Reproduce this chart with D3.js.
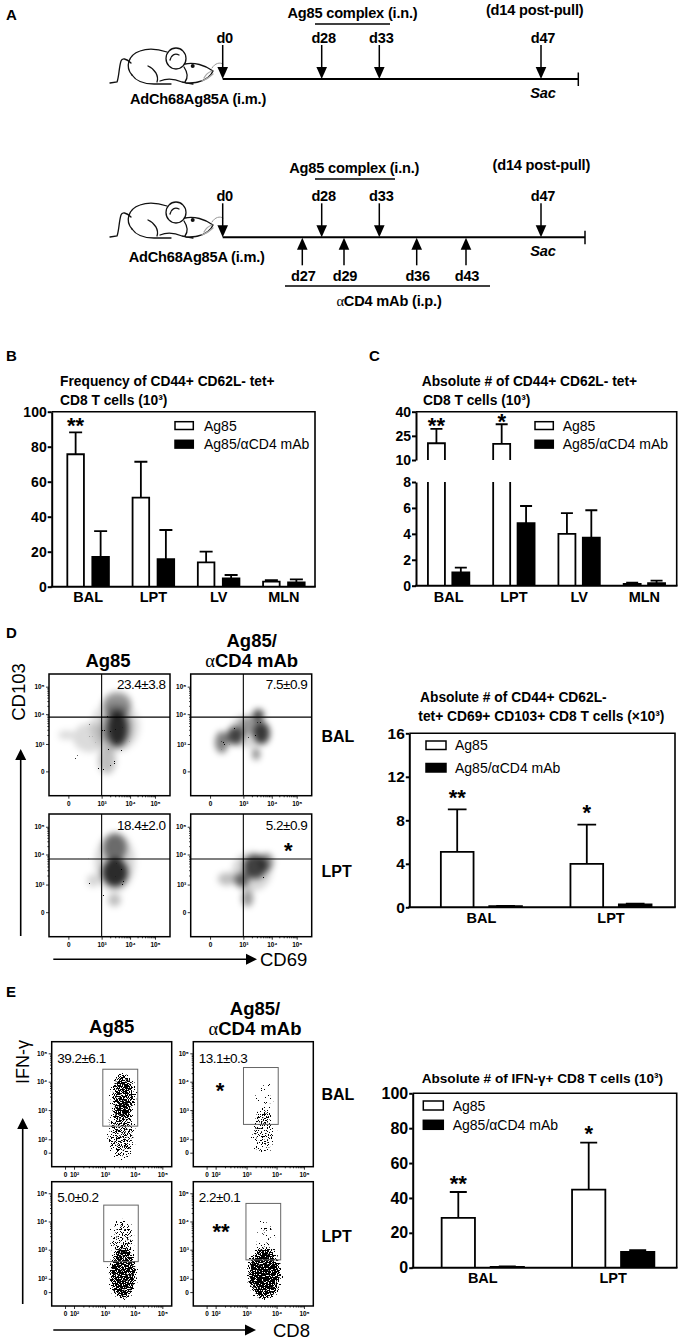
<!DOCTYPE html>
<html><head><meta charset="utf-8">
<script src="https://cdn.jsdelivr.net/npm/d3@7"></script>
<style>body{margin:0;background:#fff}svg{display:block}text{font-family:"Liberation Sans",Arial,Helvetica,sans-serif}</style>
</head><body>
<svg id="c" width="681" height="1339" xmlns="http://www.w3.org/2000/svg"></svg>
<script>
// ---------------- DATA ----------------
// Panel A timeline (days)
const primeDay = 0;
const boostDays = [28, 33];
const sacDay = 47;
const antiCD4Days = [27, 29, 36, 43];

// Panels B,C
const tissuesBC = ["BAL", "LPT", "LV", "MLN"];
const freqAg85 = [75.7, 50.9, 13.9, 2.9];
const freqAg85Sem = [12.5, 20.5, 6.1, 0.9];
const freqCD4 = [17.1, 15.8, 4.8, 2.5];
const freqCD4Sem = [14.7, 16.6, 1.9, 1.7];
const freqStars = ["**", "", "", ""];
const absAg85 = [20.4, 20.0, 4.0, 0.13];
const absAg85Sem = [8.9, 12.2, 1.6, 0.1];
const absCD4 = [1.03, 4.82, 3.71, 0.19];
const absCD4Sem = [0.36, 1.33, 2.11, 0.2];
const absStars = ["**", "*", "", ""];
const ticksB = [0, 20, 40, 60, 80, 100];
const ticksCLow = [0, 2, 4, 6, 8];
const ticksCHigh = [10, 25, 40];

// Panels D,E bar charts
const tissuesDE = ["BAL", "LPT"];
const trmAg85 = [5.1, 4.0];
const trmAg85Sem = [3.9, 3.6];
const trmCD4 = [0.1, 0.27];
const trmCD4Sem = [0.03, 0.06];
const trmStars = ["**", "*"];
const ticksD = [0, 4, 8, 12, 16];
const ifnAg85 = [28.6, 44.8];
const ifnAg85Sem = [14.8, 26.9];
const ifnCD4 = [0.5, 9.1];
const ifnCD4Sem = [0.2, 1.0];
const ifnStars = ["**", "*"];
const ticksE = [0, 20, 40, 60, 80, 100];

const groupNames = ["Ag85", "Ag85/\u03b1CD4 mAb"];

// Flow plots (values in decades; 0 = zero)
const flowTicksD = [0, 3, 4, 5];
const flowLabelsD = ["0", "10\u00b3", "10\u2074", "10\u2075"];
const flowTicksE = [0, 2, 3, 4, 5];
const flowLabelsE = ["0", "10\u00b2", "10\u00b3", "10\u2074", "10\u2075"];
const cd103Pct = ["23.4\u00b13.8", "7.5\u00b10.9", "18.4\u00b12.0", "5.2\u00b10.9"];
const ifnPct = ["39.2\u00b16.1", "13.1\u00b10.3", "5.0\u00b10.2", "2.2\u00b10.1"];
const cd69Cut = [3, 3, 3, 3];
const cd103Cut = [3.9, 3.9, 3.85, 3.85];
const ifnGates = [[2.93, 4.1, 2.45, 4.44], [2.9, 4.06, 2.51, 4.5], [2.96, 4.12, 2.59, 4.58], [2.98, 4.15, 2.65, 4.64]];
const flowStarsD = ["", "", "", "*"];
const flowStarsE = ["", "*", "", "**"];
// density blobs [cx, cy, rx, ry, weight] per plot (BAL Ag85, BAL aCD4, LPT Ag85, LPT aCD4)
const cd103Density = [
  [[3.2, 3.3, 1.2, 1.2, 0.12], [1.8, 2.9, 1.4, 0.8, 0.14], [-0.2, 3.3, 0.7, 0.15, 0.14], [3.1, 1.2, 0.4, 1.5, 0.25],
   [3.5, 3.4, 0.6, 0.9, 0.3], [3.55, 4.35, 0.5, 0.45, 0.4], [3.55, 3.45, 0.35, 0.65, 0.75]],
  [[2.8, 3.3, 1.0, 0.7, 0.16], [3.53, 3.97, 0.2, 0.22, 0.7], [3.65, 3.35, 0.29, 0.39, 0.75], [2.25, 3.24, 0.75, 0.34, 0.7],
   [1.05, 2.7, 0.6, 0.73, 0.5], [3.45, 1.89, 0.14, 0.66, 0.45], [3.0, 3.6, 0.5, 0.3, 0.3]],
  [[3.3, 3.48, 0.9, 1.3, 0.16], [2.25, 3.04, 0.6, 0.3, 0.16], [3.45, 1.32, 0.23, 0.7, 0.25],
   [3.47, 4.26, 0.41, 0.5, 0.5], [3.47, 3.32, 0.45, 0.55, 0.8]],
  [[3.0, 3.2, 1.0, 0.9, 0.16], [1.5, 3.15, 0.8, 0.25, 0.25], [3.1, 1.5, 0.25, 0.9, 0.4],
   [2.7, 3.04, 0.5, 0.35, 0.55], [3.82, 3.75, 0.25, 0.3, 0.45], [3.41, 3.59, 0.41, 0.4, 0.7]]
];
const cd103Strays = [
  [[2.0, 1.8, 2.2, 2.3, 0.42]],
  [[2.5, 2.6, 1.8, 1.6, 0.34]],
  [[2.2, 2.2, 2.0, 2.0, 0.34]],
  [[2.4, 2.4, 1.8, 1.8, 0.3]]
];
const ifnDensity = [
  [[3.55, 1.0, 0.5, 2.2, 0.75], [3.6, 3.5, 0.45, 0.85, 0.85], [3.6, 3.6, 0.25, 0.5, 0.4]],
  [[3.55, 1.2, 0.45, 1.8, 0.62], [3.6, 3.3, 0.4, 0.8, 0.46]],
  [[3.6, 0.9, 0.5, 2.2, 0.97], [3.6, 3.3, 0.45, 0.85, 0.66]],
  [[3.6, 0.9, 0.6, 2.2, 1.0], [3.6, 3.4, 0.4, 0.8, 0.45]]
];

// ---------------- SETUP ----------------
const svg = d3.select("#c");
const defs = svg.append("defs");
const W = 681, H = 1339;

const fBlur = defs.append("filter").attr("id", "blurD").attr("filterUnits", "userSpaceOnUse")
  .attr("x", 0).attr("y", 0).attr("width", W).attr("height", H).attr("color-interpolation-filters", "sRGB");
fBlur.append("feGaussianBlur").attr("stdDeviation", 3);

function speckFilter(id, k2, k4, seed) {
  const f = defs.append("filter").attr("id", id).attr("filterUnits", "userSpaceOnUse")
    .attr("x", 0).attr("y", 0).attr("width", W).attr("height", H).attr("color-interpolation-filters", "sRGB");
  f.append("feGaussianBlur").attr("in", "SourceAlpha").attr("stdDeviation", 3).attr("result", "d");
  f.append("feTurbulence").attr("type", "fractalNoise").attr("baseFrequency", 0.85).attr("numOctaves", 2).attr("seed", seed).attr("result", "n");
  f.append("feColorMatrix").attr("in", "n").attr("type", "matrix")
    .attr("values", "0 0 0 0 0  0 0 0 0 0  0 0 0 0 0  1 0 0 0 0").attr("result", "nr");
  f.append("feComposite").attr("in", "d").attr("in2", "nr").attr("operator", "arithmetic")
    .attr("k1", 0).attr("k2", k2).attr("k3", 1).attr("k4", k4).attr("result", "s");
  const ct = f.append("feComponentTransfer").attr("in", "s").attr("result", "t");
  ct.append("feFuncA").attr("type", "linear").attr("slope", 30).attr("intercept", 0);
  f.append("feFlood").attr("flood-color", "#000").attr("result", "fl");
  f.append("feComposite").attr("in", "fl").attr("in2", "t").attr("operator", "in");
}
speckFilter("specks", 0.56, -0.93, 7);
speckFilter("strays", 0.45, -0.95, 3);

function txt(g, x, y, s, o = {}) {
  const t = g.append("text").attr("x", x).attr("y", y)
    .attr("font-size", o.size || 14).attr("font-weight", o.weight || "normal")
    .attr("text-anchor", o.anchor || "start").attr("fill", o.fill || "#000");
  if (o.style) t.attr("font-style", o.style);
  if (o.ls !== undefined) t.attr("letter-spacing", o.ls);
  if (o.rotate) t.attr("transform", `rotate(${o.rotate},${x},${y})`);
  if (Array.isArray(s)) {
    s.forEach(p => { const ts = t.append("tspan").text(p[0]); if (p[1]) ts.attr("font-family", '"Liberation Serif","Times New Roman",serif').attr("font-weight", "normal"); });
  } else t.text(s);
  return t;
}

// Panel letters
[["A", 6, 20], ["B", 6, 360.5], ["C", 369, 360.5], ["D", 6, 638], ["E", 6, 997]].forEach(d =>
  txt(svg, d[1], d[2], d[0], { size: 15, weight: "bold" }));

// ---------------- PANEL A ----------------
const day = d3.scaleLinear()
  .domain([0, 27, 28, 29, 33, 36, 43, 47, 49.5, 50])
  .range([222.7, 302.3, 321.7, 344, 379.3, 416.7, 466, 541, 578.3, 585]);
const AF = 14.6;

function mouse(g, ox, oy) {
  const m = g.append("g").attr("transform", `translate(${ox},${oy})`)
    .attr("fill", "none").attr("stroke", "#111").attr("stroke-width", 1.3).attr("stroke-linecap", "round");
  m.append("path").attr("d", "M23,16 C18,11 14,11 13,14 C11,20 11,30 9,35 L2,36");
  m.append("path").attr("d", "M24,28 C17,20 20,8 32,4 C40,1 50,2 59,5");
  m.append("path").attr("d", "M24,28 C28,34 36,37 46,37 L63,37");
  m.append("path").attr("d", "M40,19 C47,22 51,29 49,35");
  m.append("path").attr("d", "M52,34 C59,31 67,32 74,35 L85,37");
  m.append("ellipse").attr("cx", 68).attr("cy", 11.5).attr("rx", 10).attr("ry", 10.5).attr("fill", "#fff");
  m.append("path").attr("d", "M62,13 C63,8 67,6 71,8");
  m.append("path").attr("d", "M77,17 C86,15 97,18 105,24 C103,29 98,33 90,35 C86,36 82,36 78,36").attr("fill", "#fff");
  m.append("path").attr("d", "M76,20 C80,26 80,31 77,35");
  m.append("circle").attr("cx", 84.7).attr("cy", 19).attr("r", 2).attr("fill", "#111").attr("stroke", "none");
  m.append("path").attr("d", "M96,31 C98,27 101,25 104,24 M94,34 C99,32 102,30 105,27").attr("stroke", "#aaa");
  m.append("path").attr("d", "M104,21 C107,16 112,15 115,17").attr("stroke", "#999").attr("stroke-width", 1);
}

function downArrow(g, x, yl) {
  g.append("line").attr("x1", x).attr("x2", x).attr("y1", yl - 34).attr("y2", yl - 10).attr("stroke", "#000").attr("stroke-width", 1.5);
  g.append("path").attr("d", `M${x - 5.3},${yl - 12}L${x + 5.3},${yl - 12}L${x},${yl}Z`).attr("fill", "#000");
}
function upArrow(g, x, yl) {
  g.append("line").attr("x1", x).attr("x2", x).attr("y1", yl + 10).attr("y2", yl + 28).attr("stroke", "#000").attr("stroke-width", 1.5);
  g.append("path").attr("d", `M${x - 5.3},${yl + 12.5}L${x + 5.3},${yl + 12.5}L${x},${yl + 0.5}Z`).attr("fill", "#000");
}

function timeline(yl, endDay, withCD4, o) {
  const g = svg.append("g");
  mouse(g, 108, o.mouseY);
  g.append("line").attr("x1", day(primeDay)).attr("x2", day(endDay)).attr("y1", yl).attr("y2", yl).attr("stroke", "#000").attr("stroke-width", 2);
  g.append("line").attr("x1", day(endDay)).attr("x2", day(endDay)).attr("y1", yl - 6.5).attr("y2", yl + 7).attr("stroke", "#000").attr("stroke-width", 1.5);
  const downs = [primeDay, ...boostDays, sacDay];
  downs.forEach(d => { downArrow(g, day(d), yl); txt(g, day(d) + 2, yl - 36, "d" + d, { size: AF, weight: "bold", anchor: "middle", ls: -0.2 }); });
  txt(g, day(sacDay) + 2, yl + 18.5, "Sac", { size: AF, weight: "bold", style: "italic", anchor: "middle", ls: -0.2 });
  txt(g, o.boostCx, o.boostY, o.boostText, { size: AF, weight: "bold", anchor: "middle", ls: -0.2 });
  g.append("line").attr("x1", day(boostDays[0]) - 6.7).attr("x2", day(boostDays[1]) + o.brExt).attr("y1", o.boostY + 6).attr("y2", o.boostY + 6).attr("stroke", "#000").attr("stroke-width", 1.5);
  txt(g, o.postCx, o.postY, "(d14 post-pull)", { size: AF, weight: "bold", anchor: "middle", ls: -0.2 });
  txt(g, o.adCx, yl + 24.5, "AdCh68Ag85A (i.m.)", { size: AF, weight: "bold", anchor: "middle", ls: -0.2 });
  if (withCD4) {
    antiCD4Days.forEach(d => { upArrow(g, day(d), yl); txt(g, day(d) + 1, yl + 44, "d" + d, { size: AF, weight: "bold", anchor: "middle", ls: -0.2 }); });
    g.append("line").attr("x1", day(antiCD4Days[0]) - 17.3).attr("x2", day(antiCD4Days[3]) + 24).attr("y1", yl + 48.7).attr("y2", yl + 48.7).attr("stroke", "#000").attr("stroke-width", 1.5);
    txt(g, 389, yl + 69, [["\u03b1", true], ["CD4 mAb (i.p.)", false]], { size: AF, weight: "bold", anchor: "middle", ls: -0.2 });
  }
}
timeline(79, 49.5, false, { mouseY: 47, boostCx: 352.5, boostY: 18, boostText: "Ag85 complex (i.n.)", brExt: 10.7, postCx: 534.7, postY: 14.5, adCx: 198 });
timeline(237.3, 50, true, { mouseY: 201, boostCx: 354.3, boostY: 173, boostText: "Ag85 complex  (i.n.)", brExt: 15.7, postCx: 541.3, postY: 169.5, adCx: 196.7 });

// ---------------- BAR CHARTS ----------------
function barChart(c) {
  const g = svg.append("g");
  const x = d3.scaleBand().domain(c.cats).range(c.xr);
  c.segs.forEach(s => s.sc = d3.scaleLinear().domain([s.lo, s.hi]).range([s.y0, s.y1]));
  const yBase = c.segs[0].y0, yTop = c.segs[c.segs.length - 1].y1;
  const segFor = v => c.segs.find(s => v >= s.lo && v <= s.hi) || c.segs[c.segs.length - 1];

  c.titles.forEach(t => txt(g, t.x, t.y, t.s, { size: c.titleFs, weight: "bold" }));

  const bars = [];
  c.cats.forEach((cat, i) => [0, 1].forEach(k => {
    const v = k ? c.b[i] : c.a[i], sem = k ? c.bSem[i] : c.aSem[i];
    const x0 = x(cat) + x.bandwidth() / 2 + (k ? c.gap / 2 : -c.gap / 2 - c.bw);
    bars.push({ i, k, v, sem, x0 });
  }));
  const pieces = [];
  bars.forEach(b => c.segs.forEach(s => {
    if (b.v <= s.lo) return;
    pieces.push({ k: b.k, x0: b.x0, lo: s.sc(s.lo), top: s.sc(Math.min(b.v, s.hi)), closed: b.v <= s.hi });
  }));
  g.selectAll(".bf").data(pieces).join("rect").attr("class", "bf")
    .attr("x", d => d.x0).attr("y", d => d.top).attr("width", c.bw).attr("height", d => d.lo - d.top)
    .attr("fill", d => d.k ? "#000" : "#fff");
  g.selectAll(".bo").data(pieces).join("path").attr("class", "bo")
    .attr("d", d => {
      const p = d3.path(); p.moveTo(d.x0, d.lo); p.lineTo(d.x0, d.top);
      if (d.closed) p.lineTo(d.x0 + c.bw, d.top); else p.moveTo(d.x0 + c.bw, d.top);
      p.lineTo(d.x0 + c.bw, d.lo); return p.toString();
    })
    .attr("fill", "none").attr("stroke", "#000").attr("stroke-width", 1.8);
  g.selectAll(".eb").data(bars).join("path").attr("class", "eb")
    .attr("d", d => {
      const s = segFor(d.v), cx = d.x0 + c.bw / 2, ye = s.sc(d.v + d.sem);
      return `M${cx},${s.sc(d.v)}V${ye}M${cx - c.cap / 2},${ye}H${cx + c.cap / 2}`;
    })
    .attr("fill", "none").attr("stroke", "#000").attr("stroke-width", 1.8);
  g.selectAll(".st").data(bars.filter(d => d.k === 0 && c.stars[d.i])).join("text").attr("class", "st")
    .attr("x", d => d.x0 + c.bw / 2)
    .attr("y", d => segFor(d.v).sc(d.v + d.sem) - c.so + 0.57 * c.sfs)
    .attr("text-anchor", "middle").attr("font-size", c.sfs).attr("font-weight", "bold")
    .text(d => c.stars[d.i]);

  g.append("path").attr("d", `M${c.ax},${yTop}H${c.rx}V${yBase}`).attr("fill", "none").attr("stroke", "#000").attr("stroke-width", 1.6);
  g.append("line").attr("x1", c.ax - 1).attr("x2", c.rx + 0.8).attr("y1", yBase).attr("y2", yBase).attr("stroke", "#000").attr("stroke-width", 2);
  c.segs.forEach(s => {
    const a = g.append("g").attr("transform", `translate(${c.ax},0)`)
      .call(d3.axisLeft(s.sc).tickValues(s.ticks).tickSize(c.tk).tickPadding(c.tp).tickSizeOuter(0));
    a.attr("font-family", '"Liberation Sans",Arial,sans-serif').attr("font-size", c.tfs).attr("font-weight", "bold");
    a.selectAll("path,line").attr("stroke", "#000").attr("stroke-width", 2);
    a.selectAll("text").attr("fill", "#000");
  });

  const L = c.legend;
  [0, 1].forEach(k => {
    const yy = k ? L.y2 : L.y1;
    g.append("rect").attr("x", L.x).attr("y", yy).attr("width", L.w).attr("height", L.h)
      .attr("fill", k ? "#000" : "#fff").attr("stroke", "#000").attr("stroke-width", 1.5);
    txt(g, L.tx, yy + L.h / 2 + 5.2, groupNames[k], { size: L.fs });
  });

  g.selectAll(".cl").data(c.cats).join("text").attr("class", "cl")
    .attr("x", d => x(d) + x.bandwidth() / 2).attr("y", c.catY)
    .attr("text-anchor", "middle").attr("font-size", c.catFs).attr("font-weight", "bold").text(d => d);
}

barChart({
  cats: tissuesBC, a: freqAg85, aSem: freqAg85Sem, b: freqCD4, bSem: freqCD4Sem, stars: freqStars,
  xr: [55.5, 316.5], ax: 51.7, rx: 315,
  segs: [{ lo: 0, hi: 100, y0: 586.7, y1: 411.7, ticks: ticksB }],
  bw: 16.6, gap: 8.4, cap: 13, tk: 4, tp: 1, tfs: 14, so: 12, sfs: 22,
  legend: { x: 175, y1: 421.7, y2: 440.3, w: 18.3, h: 7.8, tx: 204, fs: 14 },
  titles: [{ x: 60, y: 386.3, s: "Frequency of CD44+ CD62L- tet+" }, { x: 60, y: 404.5, s: "CD8 T cells (10\u00b3)" }],
  titleFs: 13.8, catY: 601.7, catFs: 14.5
});
barChart({
  cats: tissuesBC, a: absAg85, aSem: absAg85Sem, b: absCD4, bSem: absCD4Sem, stars: absStars,
  xr: [416, 677], ax: 416, rx: 676.7,
  segs: [{ lo: 0, hi: 8, y0: 585.7, y1: 482, ticks: ticksCLow }, { lo: 10, hi: 40, y0: 460, y1: 411.7, ticks: ticksCHigh }],
  bw: 17, gap: 7.4, cap: 12, tk: 4, tp: 1, tfs: 14, so: 8, sfs: 22,
  legend: { x: 535, y1: 421.7, y2: 440.3, w: 18.3, h: 7.8, tx: 562.7, fs: 14 },
  titles: [{ x: 421.7, y: 386.3, s: "Absolute # of CD44+ CD62L- tet+" }, { x: 423, y: 404.5, s: "CD8 T cells (10\u00b3)" }],
  titleFs: 13.8, catY: 601.7, catFs: 14.5
});
barChart({
  cats: tissuesDE, a: trmAg85, aSem: trmAg85Sem, b: trmCD4, bSem: trmCD4Sem, stars: trmStars,
  xr: [416.6, 675.8], ax: 409.3, rx: 675,
  segs: [{ lo: 0, hi: 16, y0: 907.3, y1: 733.3, ticks: ticksD }],
  bw: 32.7, gap: 15.7, cap: 18.7, tk: 3.5, tp: 1, tfs: 15.5, so: 17, sfs: 22,
  legend: { x: 426, y1: 741, y2: 763.5, w: 20, h: 8.5, tx: 455, fs: 14 },
  titles: [{ x: 420, y: 702, s: "Absolute # of CD44+ CD62L-" }, { x: 418.3, y: 721, s: "tet+ CD69+ CD103+ CD8 T cells (\u00d710\u00b3)" }],
  titleFs: 13.8, catY: 923.3, catFs: 14.5
});
barChart({
  cats: tissuesDE, a: ifnAg85, aSem: ifnAg85Sem, b: ifnCD4, bSem: ifnCD4Sem, stars: ifnStars,
  xr: [417.6, 678.4], ax: 412.7, rx: 676.7,
  segs: [{ lo: 0, hi: 100, y0: 1267.7, y1: 1093.3, ticks: ticksE }],
  bw: 33.3, gap: 15.7, cap: 17, tk: 3.5, tp: 1, tfs: 16, so: 14, sfs: 22,
  legend: { x: 423.3, y1: 1101, y2: 1120.3, w: 20, h: 9, tx: 452.7, fs: 14 },
  titles: [{ x: 421.7, y: 1083, s: "Absolute # of IFN-\u03b3+ CD8 T cells (10\u00b3)" }],
  titleFs: 13.6, catY: 1283.3, catFs: 14.5
});

// ---------------- FLOW PLOTS ----------------
function minorTicks(lo, hi) {
  const out = [];
  for (let k = lo; k < hi; k++) for (let m = 2; m <= 9; m++) out.push(k + Math.log10(m));
  return out;
}
function flowPanel(P) {
  P.boxes.forEach((b, i) => {
    const sx = d3.scaleLinear().domain(P.xd).range(P.xf.map(f => b[0] + f * (b[1] - b[0])));
    const sy = d3.scaleLinear().domain(P.yd).range(P.yf.map(f => b[3] - f * (b[3] - b[2])));
    const g = svg.append("g");
    const cid = P.id + i;
    defs.append("clipPath").attr("id", cid).append("rect")
      .attr("x", b[0]).attr("y", b[2]).attr("width", b[1] - b[0]).attr("height", b[3] - b[2]);
    const cg = g.append("g").attr("clip-path", `url(#${cid})`);
    P.layers.forEach(L => {
      const lg = cg.append("g").attr("filter", `url(#${L.filter})`);
      lg.selectAll("ellipse").data(L.data[i]).join("ellipse")
        .attr("cx", d => (sx(d[0] - d[2]) + sx(d[0] + d[2])) / 2)
        .attr("cy", d => (sy(d[1] - d[3]) + sy(d[1] + d[3])) / 2)
        .attr("rx", d => Math.abs(sx(d[0] + d[2]) - sx(d[0] - d[2])) / 2)
        .attr("ry", d => Math.abs(sy(d[1] - d[3]) - sy(d[1] + d[3])) / 2)
        .attr("fill", "#000").attr("fill-opacity", d => d[4]);
    });
    if (P.quad) {
      g.append("line").attr("x1", sx(P.quad.x[i])).attr("x2", sx(P.quad.x[i])).attr("y1", b[2]).attr("y2", b[3]).attr("stroke", "#000").attr("stroke-width", 1.1);
      g.append("line").attr("x1", b[0]).attr("x2", b[1]).attr("y1", sy(P.quad.y[i])).attr("y2", sy(P.quad.y[i])).attr("stroke", "#000").attr("stroke-width", 1.1);
    }
    if (P.gates) {
      const q = P.gates[i];
      g.append("rect").attr("x", sx(q[0])).attr("y", sy(q[3])).attr("width", sx(q[1]) - sx(q[0])).attr("height", sy(q[2]) - sy(q[3]))
        .attr("fill", "none").attr("stroke", "#666").attr("stroke-width", 1);
    }
    g.append("rect").attr("x", b[0]).attr("y", b[2]).attr("width", b[1] - b[0]).attr("height", b[3] - b[2])
      .attr("fill", "none").attr("stroke", "#000").attr("stroke-width", 1.5);
    const styleAx = a => {
      a.select(".domain").remove();
      a.attr("font-family", '"DejaVu Sans",sans-serif').attr("font-size", 6.4).attr("font-weight", "bold");
      a.selectAll("line").attr("stroke", "#000").attr("stroke-width", 0.8);
      a.selectAll("text").attr("fill", "#000");
    };
    g.append("g").attr("transform", `translate(${b[0]},0)`).call(d3.axisLeft(sy).tickValues(P.ticks).tickFormat((d, j) => P.labels[j]).tickSize(3).tickPadding(1.5)).call(styleAx);
    g.append("g").attr("transform", `translate(0,${b[3]})`).call(d3.axisBottom(sx).tickValues(P.ticks).tickFormat((d, j) => P.labels[j]).tickSize(3).tickPadding(2.5)).call(styleAx);
    g.append("g").attr("transform", `translate(${b[0]},0)`).call(d3.axisLeft(sy).tickValues(P.minor).tickFormat("").tickSize(1.6)).call(styleAx);
    g.append("g").attr("transform", `translate(0,${b[3]})`).call(d3.axisBottom(sx).tickValues(P.minor).tickFormat("").tickSize(1.6)).call(styleAx);
    txt(g, P.pctAnchor === "end" ? b[1] - 4.5 : b[0] + 5.5, b[2] + P.pctDy[i], P.pct[i], { size: 13.5, anchor: P.pctAnchor, ls: -0.5 });
    if (P.stars[i]) txt(g, b[0] + P.starPos[i][0], b[2] + P.starPos[i][1] + 0.57 * 22, P.stars[i], { size: 22, weight: "bold", anchor: "middle" });
  });
}

const boxesD = [[49, 170, 674, 795.7], [190.7, 311.7, 674, 795.7], [49, 170, 814, 936.7], [190.7, 311.7, 814, 936.7]];
flowPanel({
  id: "cd", boxes: boxesD,
  xd: [-1.75, 0, 3, 4, 5, 5.6], xf: [0, 0.16, 0.435, 0.67, 0.876, 1],
  yd: [-2.67, 0, 3, 4, 5, 5.46], yf: [0, 0.2, 0.425, 0.67, 0.896, 1],
  ticks: flowTicksD, labels: flowLabelsD, minor: minorTicks(3, 5),
  layers: [{ filter: "strays", data: cd103Strays }, { filter: "blurD", data: cd103Density }],
  quad: { x: cd69Cut, y: cd103Cut },
  pct: cd103Pct, pctAnchor: "end", pctDy: [15, 15, 16, 16],
  stars: flowStarsD, starPos: [[0, 0], [0, 0], [0, 0], [97.6, 31]]
});
const boxesE = [[51.7, 171.7, 1041.7, 1166.7], [193.3, 313.3, 1041.7, 1166.7], [51.7, 171.7, 1181.7, 1306], [193.3, 313.3, 1181.7, 1306]];
flowPanel({
  id: "ifn", boxes: boxesE,
  xd: [-2.96, 0, 2, 3, 4, 5, 5.34], xf: [0, 0.111, 0.186, 0.444, 0.694, 0.922, 1],
  yd: [-2.09, 0, 2, 3, 4, 5, 5.41], yf: [0, 0.112, 0.219, 0.453, 0.68, 0.907, 1],
  ticks: flowTicksE, labels: flowLabelsE, minor: minorTicks(2, 5),
  layers: [{ filter: "specks", data: ifnDensity }],
  gates: ifnGates,
  pct: ifnPct, pctAnchor: "start", pctDy: [21.3, 21.3, 19.8, 19.8],
  stars: flowStarsE, starPos: [[0, 0], [26.7, 43.3], [0, 0], [27.7, 44.3]]
});

txt(svg, 108, 666.5, "Ag85", { size: 18.5, weight: "bold", anchor: "middle" });
txt(svg, 251.7, 646.5, "Ag85/", { size: 18.5, weight: "bold", anchor: "middle" });
txt(svg, 251.7, 666.5, [["\u03b1", true], ["CD4 mAb", false]], { size: 18.5, weight: "bold", anchor: "middle" });
txt(svg, 111.7, 1033, "Ag85", { size: 18.5, weight: "bold", anchor: "middle" });
txt(svg, 255, 1015, "Ag85/", { size: 18.5, weight: "bold", anchor: "middle" });
txt(svg, 255, 1035, [["\u03b1", true], ["CD4 mAb", false]], { size: 18.5, weight: "bold", anchor: "middle" });

txt(svg, 25, 692, "CD103", { size: 18.5, anchor: "middle", rotate: -90 });
txt(svg, 29, 1062, "IFN-\u03b3", { size: 18, anchor: "middle", rotate: -90 });

function arrowV(x, yb, yt) {
  svg.append("line").attr("x1", x).attr("x2", x).attr("y1", yb).attr("y2", yt + 9).attr("stroke", "#000").attr("stroke-width", 1.6);
  svg.append("path").attr("d", `M${x - 5.5},${yt + 11}L${x + 5.5},${yt + 11}L${x},${yt}Z`).attr("fill", "#000");
}
function arrowH(y, xl, xr) {
  svg.append("line").attr("x1", xl).attr("x2", xr - 9).attr("y1", y).attr("y2", y).attr("stroke", "#000").attr("stroke-width", 1.6);
  svg.append("path").attr("d", `M${xr - 11},${y - 5.5}L${xr - 11},${y + 5.5}L${xr},${y}Z`).attr("fill", "#000");
}
arrowV(20.7, 936, 749);
arrowH(959.3, 53.3, 257);
txt(svg, 260, 966, "CD69", { size: 18.5 });
arrowV(22.7, 1304, 1118);
arrowH(1330, 53.3, 256);
txt(svg, 273, 1336.5, "CD8", { size: 18.5 });

[["BAL", 741.7], ["LPT", 877], ["BAL", 1100], ["LPT", 1241.7]].forEach(d =>
  txt(svg, 321.5, d[1], d[0], { size: 16, weight: "bold" }));
</script>
</body></html>
